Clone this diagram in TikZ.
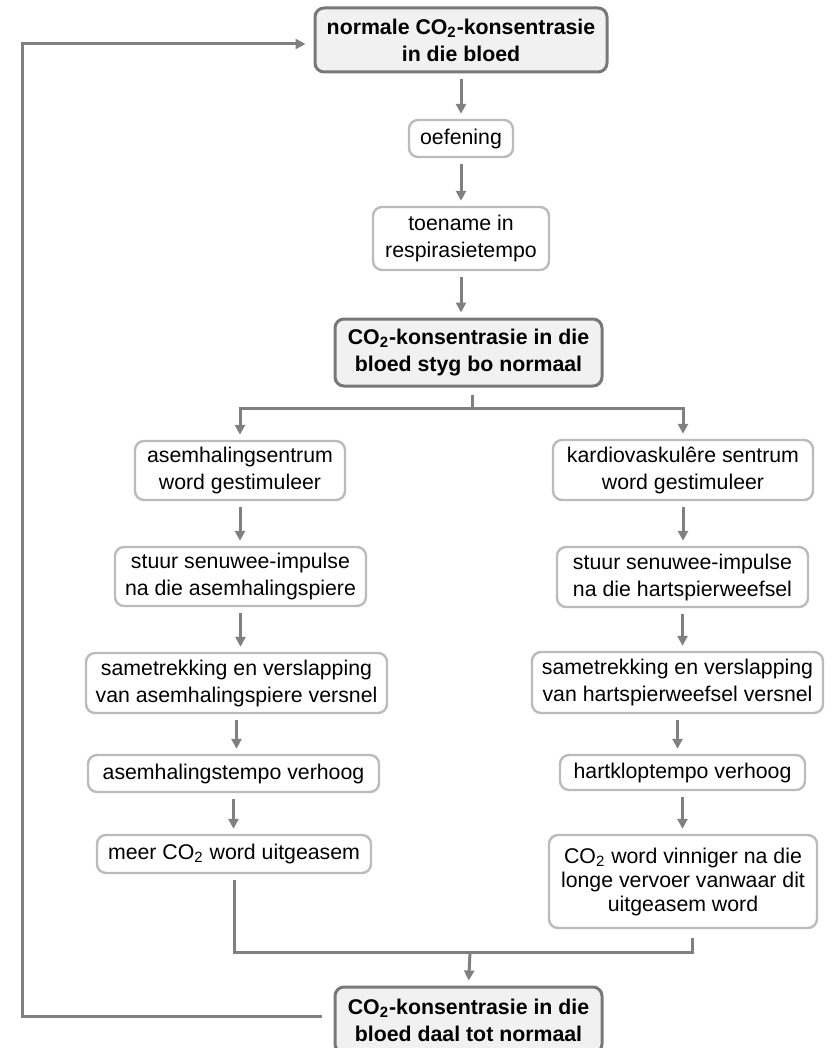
\documentclass[tikz,border=0pt]{standalone}
\usepackage{fontspec}
\setmainfont{Liberation Sans}
\usetikzlibrary{arrows.meta}
\definecolor{boxline}{HTML}{BBBBBB}
\definecolor{keyline}{HTML}{787878}
\definecolor{keyfill}{HTML}{F1F1F1}
\definecolor{arrline}{HTML}{808080}
\newcommand{\cotwo}{CO\textsubscript{2}}

\begin{document}
\begin{tikzpicture}[x=0.5pt, y=-0.5pt,
      font=\fontsize{10.65}{13.5}\selectfont,
      box/.style={draw=boxline, line width=1.2pt, rounded corners=4.5pt,
        align=center, inner sep=1pt},
      key/.style={box, draw=keyline, fill=keyfill, line width=1.5pt,
        font=\fontsize{10.65}{13.5}\selectfont\bfseries},
      link/.style={draw=arrline, line width=1.5pt},
      arr/.style={link, -{Triangle[length=5pt,width=5pt]},
        shorten <=3pt, shorten >=2.5pt}]
      \useasboundingbox (0,0) rectangle (834,1048);
      % middle column
      \node[key, minimum width=146pt, minimum height=32pt] (top) at (461,40)
        {normale \cotwo-konsentrasie\\in die bloed};
      \node[box, minimum width=52pt, minimum height=18.5pt] (oef) at (461,138.5) {oefening};
      \node[box, minimum width=88pt, minimum height=31.5pt] (toe) at (461,238.5)
        {toename in\\respirasietempo};
      \node[key, minimum width=133.5pt, minimum height=33.5pt] (styg) at (468.5,352.5)
        {\cotwo-konsentrasie in die\\bloed styg bo normaal};
      % left column
      \node[box, minimum width=105pt, minimum height=29.5pt] (asem) at (240,470.5)
        {asemhalingsentrum\\word gestimuleer};
      \node[box, minimum width=125.5pt, minimum height=29.5pt] (stuura) at (240.5,576.5)
        {stuur senuwee-impulse\\na die asemhalingspiere};
      \node[box, minimum width=150.5pt, minimum height=30pt] (sama) at (236.5,683)
        {sametrekking en verslapping\\van asemhalingspiere versnel};
      \node[box, minimum width=145.5pt, minimum height=18.5pt] (tempoa) at (233.5,773.5)
        {asemhalingstempo verhoog};
      \node[box, minimum width=137pt, minimum height=19pt] (meer) at (234,854)
        {meer \cotwo{} word uitgeasem};
      % right column
      \node[box, minimum width=130pt, minimum height=30pt] (kard) at (683,470)
        {kardiovaskulêre sentrum\\word gestimuleer};
      \node[box, minimum width=125.5pt, minimum height=30pt] (stuurh) at (682.5,577)
        {stuur senuwee-impulse\\na die hartspierweefsel};
      \node[box, minimum width=145.5pt, minimum height=30.5pt] (samh) at (677.5,682.5)
        {sametrekking en verslapping\\van hartspierweefsel versnel};
      \node[box, minimum width=122.5pt, minimum height=17.5pt] (tempoh) at (682.5,772.5)
        {hartkloptempo verhoog};
      \node[box, minimum width=134pt, minimum height=46.5pt,
        font=\fontsize{10.65}{12}\selectfont] (vin) at (683,881.5)
        {\cotwo{} word vinniger na die\\longe vervoer vanwaar dit\\uitgeasem word};
      % bottom
      \node[key, minimum width=133.5pt, minimum height=33pt] (bot) at (468.5,1020)
        {\cotwo-konsentrasie in die\\bloed daal tot normaal};

      \foreach \a/\b in {top/oef, oef/toe, toe/styg,
          asem/stuura, stuura/sama, sama/tempoa, tempoa/meer,
          kard/stuurh, stuurh/samh, samh/tempoh, tempoh/vin}
        \draw[arr] (\a.south) -- (\a.south |- \b.north);

      \coordinate (split) at (472,408);
      \draw[link, shorten <=3.5pt] (styg.south -| split) -- (split);
      \draw[arr, shorten <=0pt] (split) -| (asem.north);
      \draw[arr, shorten <=0pt] (split) -| (kard.north);

      \coordinate (join) at (470,952);
      \draw[link, shorten <=3pt] (meer.south) |- (join);
      \draw[link, shorten <=4.5pt] ([xshift=4.5pt]vin.south) |- (join);
      \draw[arr, shorten <=0pt] (join) -- (bot.north);

      \coordinate (lb) at (22,1016);
      \coordinate (lt) at (22,44);
      \draw[arr, shorten <=6pt, shorten >=4pt] (bot.west |- lb) -- (lb) -- (lt) -- (top.west |- lt);
    \end{tikzpicture}
\end{document}
